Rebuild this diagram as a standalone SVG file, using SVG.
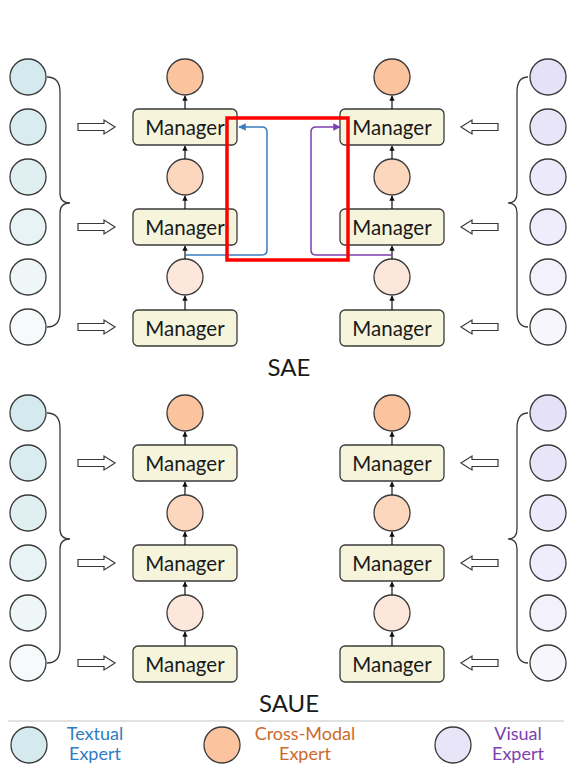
<svg xmlns="http://www.w3.org/2000/svg" width="568" height="765" viewBox="0 0 568 765">
  <style>
    .exp { stroke: #3a3a3a; stroke-width: 1.3; }
    .mgr rect { fill: #f6f5dc; stroke: #3a3a3a; stroke-width: 1.3; }
    .mgr text, .lbl { font-family: Lato, "Open Sans", sans-serif; fill: #1a1a1a; text-anchor: middle; }
    .mgr text { font-size: 20.5px; }
    .lbl { font-size: 24px; }
    .brace { fill: none; stroke: #3a3a3a; stroke-width: 1.3; }
    .hollow { fill: #ffffff; stroke: #3a3a3a; stroke-width: 1.2; stroke-linejoin: miter; }
    .up { stroke: #111; stroke-width: 1.2; marker-end: url(#tip); }
    .leg { font-family: Lato, "Open Sans", sans-serif; font-size: 18px; text-anchor: middle; }
    .t1 { fill: #d4eaee; } .t2 { fill: #d9edf0; } .t3 { fill: #e0f0f2; }
    .t4 { fill: #e7f3f5; } .t5 { fill: #eef6f8; } .t6 { fill: #f6fafb; }
    .v1 { fill: #e4e1f8; } .v2 { fill: #e8e5f9; } .v3 { fill: #eceafa; }
    .v4 { fill: #efedfb; } .v5 { fill: #f2f1fc; } .v6 { fill: #f7f6fd; }
    .c1 { fill: #fbc49e; } .c2 { fill: #fcd7bd; } .c3 { fill: #fde6da; }
  </style>
  <defs>
    <marker id="tip" viewBox="0 0 10 10" refX="9" refY="5" markerWidth="4.5" markerHeight="4.5" orient="auto">
      <path d="M0,0 L10,5 L0,10 z" fill="#111"/>
    </marker>
    <marker id="tipBlue" viewBox="0 0 10 10" refX="9" refY="5" markerWidth="5" markerHeight="5" orient="auto">
      <path d="M0,0 L10,5 L0,10 z" fill="#3a7dc0"/>
    </marker>
    <marker id="tipPurple" viewBox="0 0 10 10" refX="9" refY="5" markerWidth="5" markerHeight="5" orient="auto">
      <path d="M0,0 L10,5 L0,10 z" fill="#7d3fb0"/>
    </marker>
    <!-- hollow block arrows, drawn pointing right / left -->
    <path id="hollowR" class="hollow" d="M0,-3.5 H26 V-7 L37,0 L26,7 V3.5 H0 Z"/>
    <path id="hollowL" class="hollow" d="M0,-3.5 H-26 V-7 L-37,0 L-26,7 V3.5 H0 Z"/>
  </defs>

  <!-- ===== SAE ===== -->
  <g id="sae">
    <g id="sae-textual">
      <circle id="sae-t1" class="exp t1" cx="28" cy="77" r="18"/>
      <circle id="sae-t2" class="exp t2" cx="28" cy="127" r="18"/>
      <circle id="sae-t3" class="exp t3" cx="28" cy="177" r="18"/>
      <circle id="sae-t4" class="exp t4" cx="28" cy="227" r="18"/>
      <circle id="sae-t5" class="exp t5" cx="28" cy="277" r="18"/>
      <circle id="sae-t6" class="exp t6" cx="28" cy="327" r="18"/>
      <path class="brace" d="M47,77 Q60,77 60,92 V193 Q60,203 70,203 Q60,203 60,213 V312 Q60,327 47,327"/>
    </g>
    <g id="sae-visual">
      <circle id="sae-v1" class="exp v1" cx="548" cy="77" r="18"/>
      <circle id="sae-v2" class="exp v2" cx="548" cy="127" r="18"/>
      <circle id="sae-v3" class="exp v3" cx="548" cy="177" r="18"/>
      <circle id="sae-v4" class="exp v4" cx="548" cy="227" r="18"/>
      <circle id="sae-v5" class="exp v5" cx="548" cy="277" r="18"/>
      <circle id="sae-v6" class="exp v6" cx="548" cy="327" r="18"/>
      <path class="brace" d="M528,77 Q517,77 517,92 V193 Q517,203 508,203 Q517,203 517,213 V312 Q517,327 528,327"/>
    </g>
    <g id="sae-left-cross">
      <circle id="sae-lc1" class="exp c1" cx="185" cy="77" r="18"/>
      <circle id="sae-lc2" class="exp c2" cx="185" cy="177" r="18"/>
      <circle id="sae-lc3" class="exp c3" cx="185" cy="277" r="18"/>
    </g>
    <g id="sae-right-cross">
      <circle id="sae-rc1" class="exp c1" cx="392" cy="77" r="18"/>
      <circle id="sae-rc2" class="exp c2" cx="392" cy="177" r="18"/>
      <circle id="sae-rc3" class="exp c3" cx="392" cy="277" r="18"/>
    </g>
    <g id="sae-lm1" class="mgr"><rect x="133" y="109" width="104" height="36" rx="5"/><text x="185" y="135">Manager</text></g>
    <g id="sae-lm2" class="mgr"><rect x="133" y="209" width="104" height="36" rx="5"/><text x="185" y="235">Manager</text></g>
    <g id="sae-lm3" class="mgr"><rect x="133" y="310" width="104" height="36" rx="5"/><text x="185" y="336">Manager</text></g>
    <g id="sae-rm1" class="mgr"><rect x="340" y="109" width="104" height="36" rx="5"/><text x="392" y="135">Manager</text></g>
    <g id="sae-rm2" class="mgr"><rect x="340" y="209" width="104" height="36" rx="5"/><text x="392" y="235">Manager</text></g>
    <g id="sae-rm3" class="mgr"><rect x="340" y="310" width="104" height="36" rx="5"/><text x="392" y="336">Manager</text></g>
    <g id="sae-connectors">
      <use href="#hollowR" x="78" y="127"/>
      <use href="#hollowR" x="78" y="227"/>
      <use href="#hollowR" x="78" y="327"/>
      <use href="#hollowL" x="498" y="127"/>
      <use href="#hollowL" x="498" y="227"/>
      <use href="#hollowL" x="498" y="327"/>
      <line class="up" x1="185" y1="310" x2="185" y2="296"/>
      <line class="up" x1="185" y1="259" x2="185" y2="246"/>
      <line class="up" x1="185" y1="209" x2="185" y2="196"/>
      <line class="up" x1="185" y1="159" x2="185" y2="146"/>
      <line class="up" x1="185" y1="109" x2="185" y2="96"/>
      <line class="up" x1="392" y1="310" x2="392" y2="296"/>
      <line class="up" x1="392" y1="259" x2="392" y2="246"/>
      <line class="up" x1="392" y1="209" x2="392" y2="196"/>
      <line class="up" x1="392" y1="159" x2="392" y2="146"/>
      <line class="up" x1="392" y1="109" x2="392" y2="96"/>
      <!-- skip links over one Manager layer -->
      <path d="M185,255 H262 Q267,255 267,250 V132 Q267,127 262,127 H239" fill="none" stroke="#3a7dc0" stroke-width="1.5" marker-end="url(#tipBlue)"/>
      <path d="M392,255 H316 Q311,255 311,250 V132 Q311,127 316,127 H340" fill="none" stroke="#7d3fb0" stroke-width="1.5" marker-end="url(#tipPurple)"/>
    </g>
    <rect x="227" y="118" width="121" height="142" fill="none" stroke="#ff0000" stroke-width="3.5"/>
    <text class="lbl" x="289" y="376">SAE</text>
  </g>

  <!-- ===== SAUE ===== -->
  <g id="saue" transform="translate(0,336)">
    <g id="saue-textual">
      <circle id="saue-t1" class="exp t1" cx="28" cy="77" r="18"/>
      <circle id="saue-t2" class="exp t2" cx="28" cy="127" r="18"/>
      <circle id="saue-t3" class="exp t3" cx="28" cy="177" r="18"/>
      <circle id="saue-t4" class="exp t4" cx="28" cy="227" r="18"/>
      <circle id="saue-t5" class="exp t5" cx="28" cy="277" r="18"/>
      <circle id="saue-t6" class="exp t6" cx="28" cy="327" r="18"/>
      <path class="brace" d="M47,77 Q60,77 60,92 V193 Q60,203 70,203 Q60,203 60,213 V312 Q60,327 47,327"/>
    </g>
    <g id="saue-visual">
      <circle id="saue-v1" class="exp v1" cx="548" cy="77" r="18"/>
      <circle id="saue-v2" class="exp v2" cx="548" cy="127" r="18"/>
      <circle id="saue-v3" class="exp v3" cx="548" cy="177" r="18"/>
      <circle id="saue-v4" class="exp v4" cx="548" cy="227" r="18"/>
      <circle id="saue-v5" class="exp v5" cx="548" cy="277" r="18"/>
      <circle id="saue-v6" class="exp v6" cx="548" cy="327" r="18"/>
      <path class="brace" d="M528,77 Q517,77 517,92 V193 Q517,203 508,203 Q517,203 517,213 V312 Q517,327 528,327"/>
    </g>
    <g id="saue-left-cross">
      <circle id="saue-lc1" class="exp c1" cx="185" cy="77" r="18"/>
      <circle id="saue-lc2" class="exp c2" cx="185" cy="177" r="18"/>
      <circle id="saue-lc3" class="exp c3" cx="185" cy="277" r="18"/>
    </g>
    <g id="saue-right-cross">
      <circle id="saue-rc1" class="exp c1" cx="392" cy="77" r="18"/>
      <circle id="saue-rc2" class="exp c2" cx="392" cy="177" r="18"/>
      <circle id="saue-rc3" class="exp c3" cx="392" cy="277" r="18"/>
    </g>
    <g id="saue-lm1" class="mgr"><rect x="133" y="109" width="104" height="36" rx="5"/><text x="185" y="135">Manager</text></g>
    <g id="saue-lm2" class="mgr"><rect x="133" y="209" width="104" height="36" rx="5"/><text x="185" y="235">Manager</text></g>
    <g id="saue-lm3" class="mgr"><rect x="133" y="310" width="104" height="36" rx="5"/><text x="185" y="336">Manager</text></g>
    <g id="saue-rm1" class="mgr"><rect x="340" y="109" width="104" height="36" rx="5"/><text x="392" y="135">Manager</text></g>
    <g id="saue-rm2" class="mgr"><rect x="340" y="209" width="104" height="36" rx="5"/><text x="392" y="235">Manager</text></g>
    <g id="saue-rm3" class="mgr"><rect x="340" y="310" width="104" height="36" rx="5"/><text x="392" y="336">Manager</text></g>
    <g id="saue-connectors">
      <use href="#hollowR" x="78" y="127"/>
      <use href="#hollowR" x="78" y="227"/>
      <use href="#hollowR" x="78" y="327"/>
      <use href="#hollowL" x="498" y="127"/>
      <use href="#hollowL" x="498" y="227"/>
      <use href="#hollowL" x="498" y="327"/>
      <line class="up" x1="185" y1="310" x2="185" y2="296"/>
      <line class="up" x1="185" y1="259" x2="185" y2="246"/>
      <line class="up" x1="185" y1="209" x2="185" y2="196"/>
      <line class="up" x1="185" y1="159" x2="185" y2="146"/>
      <line class="up" x1="185" y1="109" x2="185" y2="96"/>
      <line class="up" x1="392" y1="310" x2="392" y2="296"/>
      <line class="up" x1="392" y1="259" x2="392" y2="246"/>
      <line class="up" x1="392" y1="209" x2="392" y2="196"/>
      <line class="up" x1="392" y1="159" x2="392" y2="146"/>
      <line class="up" x1="392" y1="109" x2="392" y2="96"/>
    </g>
    <text class="lbl" x="289" y="376">SAUE</text>
  </g>

  <!-- ===== Legend ===== -->
  <g id="legend">
    <line x1="8" y1="721" x2="564" y2="721" stroke="#c4c4c4" stroke-width="1"/>
    <g id="legend-textual">
      <circle class="exp t1" cx="29" cy="745" r="18"/>
      <text class="leg" x="95" y="740" fill="#2f7cc4">Textual</text>
      <text class="leg" x="95" y="760" fill="#2f7cc4">Expert</text>
    </g>
    <g id="legend-cross">
      <circle class="exp c1" cx="222" cy="745" r="18"/>
      <text class="leg" x="305" y="740" fill="#cc6a2c">Cross-Modal</text>
      <text class="leg" x="305" y="760" fill="#cc6a2c">Expert</text>
    </g>
    <g id="legend-visual">
      <circle class="exp v2" cx="453" cy="745" r="18"/>
      <text class="leg" x="518" y="740" fill="#7d3fb0">Visual</text>
      <text class="leg" x="518" y="760" fill="#7d3fb0">Expert</text>
    </g>
  </g>
</svg>
